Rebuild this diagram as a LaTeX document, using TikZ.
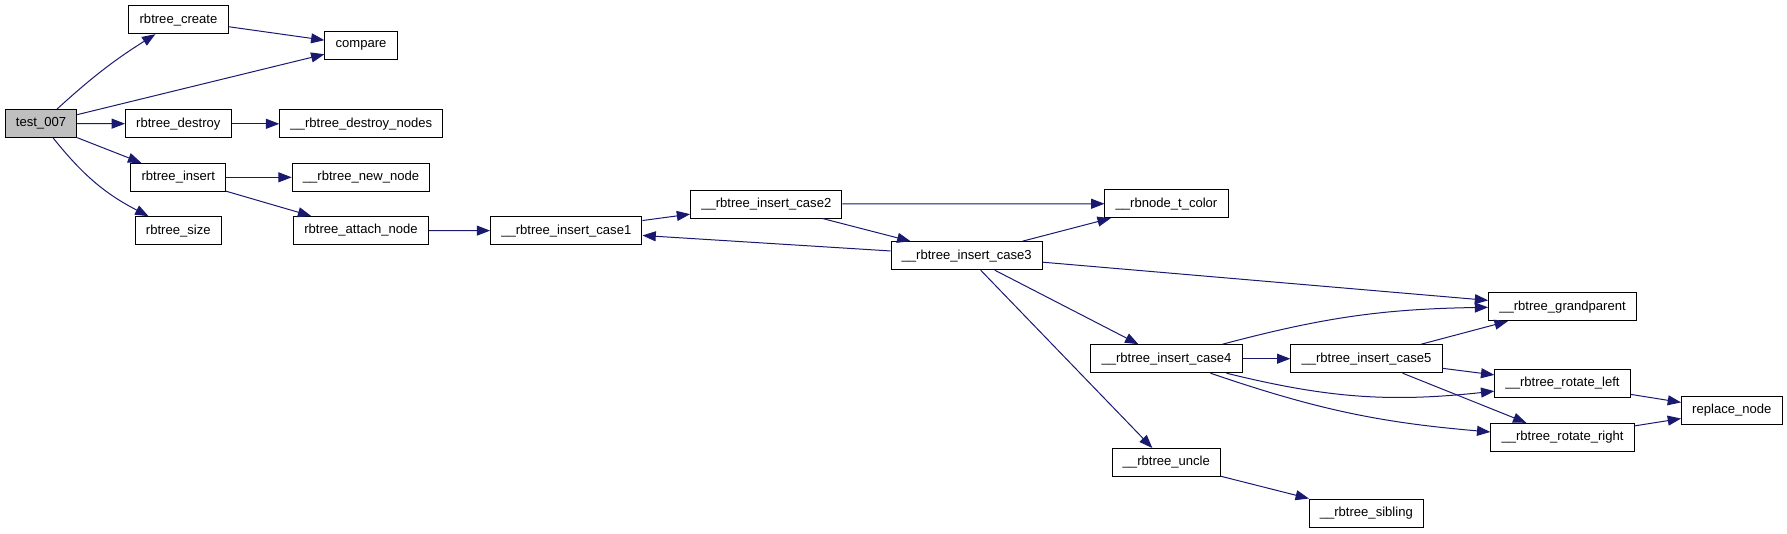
\documentclass[tikz,border=0pt]{standalone}
\usepackage{fontspec}
\setmainfont{Liberation Sans}
\usepackage{xcolor}
\usepackage{tikz}
\usetikzlibrary{arrows.meta, positioning}
\definecolor{edgeblue}{RGB}{25, 25, 112}
\definecolor{rootgray}{RGB}{191, 191, 191}

\begin{document}
\begin{tikzpicture}[x=0.75pt, y=-0.75pt,
  fnbox/.style={rectangle, draw=black, line width=0.75pt, fill=white,
    font=\fontsize{9.8pt}{11pt}\selectfont,
    minimum height=21pt, inner xsep=8pt, inner ysep=2pt},
  arr/.style={-{Triangle[length=10pt, width=7.5pt]}, color=edgeblue,
    line width=0.75pt}
]
\useasboundingbox (0,0) rectangle (1787,533);

\node[fnbox, fill=rootgray] at (41, 123.5)    (test)     {test\_007};

\node[fnbox] at (178.5, 19.7)  (create)   {rbtree\_create};
\node[fnbox] at (178.3, 123.8) (destroy)  {rbtree\_destroy};
\node[fnbox] at (178.3, 177.3) (insert)   {rbtree\_insert};
\node[fnbox] at (178.3, 230.7) (size)     {rbtree\_size};

\node[fnbox] at (361, 45.3)    (compare)  {compare};
\node[fnbox] at (361.3, 123.8) (destroyn) {\_\_rbtree\_destroy\_nodes};
\node[fnbox] at (361, 177.3)   (newnode)  {\_\_rbtree\_new\_node};
\node[fnbox] at (361, 230.5)   (attach)   {rbtree\_attach\_node};

\node[fnbox] at (566.3, 230.7) (case1)    {\_\_rbtree\_insert\_case1};
\node[fnbox] at (766.3, 204)   (case2)    {\_\_rbtree\_insert\_case2};
\node[fnbox] at (966.7, 255.7) (case3)    {\_\_rbtree\_insert\_case3};

\node[fnbox] at (1166.5, 203.7) (color)   {\_\_rbnode\_t\_color};
\node[fnbox] at (1166.5, 358.7) (case4)   {\_\_rbtree\_insert\_case4};
\node[fnbox] at (1166.3, 462.5) (uncle)   {\_\_rbtree\_uncle};

\node[fnbox] at (1366.5, 358.7) (case5)   {\_\_rbtree\_insert\_case5};
\node[fnbox] at (1366.3, 513)   (sibling) {\_\_rbtree\_sibling};

\node[fnbox] at (1562.5, 306.7) (grand)   {\_\_rbtree\_grandparent};
\node[fnbox] at (1562.5, 383.5) (rotl)    {\_\_rbtree\_rotate\_left};
\node[fnbox] at (1562.5, 437.3) (rotr)    {\_\_rbtree\_rotate\_right};

\node[fnbox] at (1731.8, 410.5) (replace) {replace\_node};

% calls from test_007
\draw[arr] (test) to[bend left=5] (create);
\draw[arr] (test) -- (compare);
\draw[arr] (test) -- (destroy);
\draw[arr] (test) -- (insert);
\draw[arr] (test) to[bend right=12] (size);

\draw[arr] (create) -- (compare);
\draw[arr] (destroy) -- (destroyn);
\draw[arr] (insert) -- (newnode);
\draw[arr] (insert) -- (attach);
\draw[arr] (attach) -- (case1);

% insert cases
\draw[arr] (case1) -- (case2);
\draw[arr] (case2) -- (color);
\draw[arr] (case2) -- (case3);
\draw[arr] (case3) -- (case1);
\draw[arr] (case3) -- (color);
\draw[arr] (case3) -- (grand);
\draw[arr] (case3) -- (case4);
\draw[arr] (case3) -- (uncle);

\draw[arr] (case4) to[bend left=7] (grand);
\draw[arr] (case4) -- (case5);
\draw[arr] (case4) to[bend right=10] (rotl);
\draw[arr] (case4) to[bend right=7] (rotr);

\draw[arr] (case5) -- (grand);
\draw[arr] (case5) -- (rotl);
\draw[arr] (case5) -- (rotr);

\draw[arr] (rotl) -- (replace);
\draw[arr] (rotr) -- (replace);
\draw[arr] (uncle) -- (sibling);
\end{tikzpicture}
\end{document}
